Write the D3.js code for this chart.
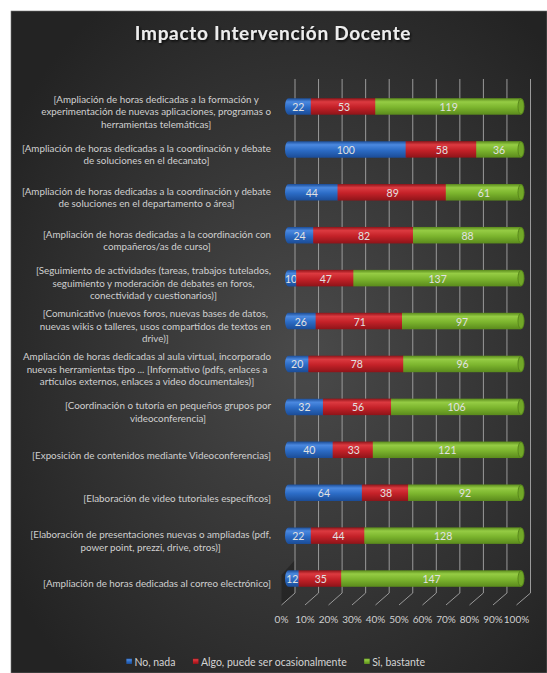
<!DOCTYPE html>
<html><head><meta charset="utf-8">
<script src="https://cdn.jsdelivr.net/npm/d3@7"></script>
<style>
html,body{margin:0;padding:0;background:#fff;}
svg{display:block;}
</style></head>
<body>
<svg id="chart" width="547" height="673"></svg>
<script>
const title = "Impacto Intervención Docente";
const categories = [
  ["[Ampliación de horas dedicadas a la formación y","experimentación de nuevas aplicaciones, programas o","herramientas telemáticas]"],
  ["[Ampliación de horas dedicadas a la coordinación y debate","de soluciones en el decanato]"],
  ["[Ampliación de horas dedicadas a la coordinación y debate","de soluciones en el departamento o área]"],
  ["[Ampliación de horas dedicadas a la coordinación con","compañeros/as de curso]"],
  ["[Seguimiento de actividades (tareas, trabajos tutelados,","seguimiento y moderación de debates en foros,","conectividad y cuestionarios)]"],
  ["[Comunicativo (nuevos foros, nuevas bases de datos,","nuevas wikis o talleres, usos compartidos de textos en","drive)]"],
  ["Ampliación de horas dedicadas al aula virtual, incorporado","nuevas herramientas tipo ... [Informativo (pdfs, enlaces a","artículos externos, enlaces a video documentales)]"],
  ["[Coordinación o tutoría en pequeños grupos por","videoconferencia]"],
  ["[Exposición de contenidos mediante Videoconferencias]"],
  ["[Elaboración de video tutoriales específicos]"],
  ["[Elaboración de presentaciones nuevas o ampliadas (pdf,","power point, prezzi, drive, otros)]"],
  ["[Ampliación de horas dedicadas al correo electrónico]"]
];
const seriesNames = ["No, nada","Algo, puede ser ocasionalmente","Si, bastante"];
const noNada   = [22,100,44,24,10,26,20,32,40,64,22,12];
const algo     = [53,58,89,82,47,71,78,56,33,38,44,35];
const siBastante = [119,36,61,88,137,97,96,106,121,92,128,147];
const tickLabels = ["0%","10%","20%","30%","40%","50%","60%","70%","80%","90%","100%"];

const colors = [
  {base:"#2c6cc6", light:"#4b89e0", dark:"#1b4c96"},
  {base:"#c42128", light:"#dc3a40", dark:"#8e1419"},
  {base:"#7cb52e", light:"#95cc44", dark:"#5a8a1c"}
];

const svg = d3.select("#chart");
const defs = svg.append("defs");
const FONT = "Lato, 'Open Sans', sans-serif";

// background
const bg = defs.append("radialGradient").attr("id","bg").attr("cx","55%").attr("cy","52%").attr("r","65%");
bg.append("stop").attr("offset","0%").attr("stop-color","#4a4a4a");
bg.append("stop").attr("offset","100%").attr("stop-color","#232323");
svg.append("rect").attr("x",11).attr("y",11).attr("width",536).attr("height",662).attr("fill","url(#bg)")
  .attr("stroke","#777").attr("stroke-width",0.6);

const sh = defs.append("filter").attr("id","tshadow").attr("x","-10%").attr("y","-30%").attr("width","120%").attr("height","160%");
sh.append("feDropShadow").attr("dx",1.2).attr("dy",1.5).attr("stdDeviation",1.2).attr("flood-color","#000").attr("flood-opacity",0.8);

colors.forEach((c,i)=>{
  const g = defs.append("linearGradient").attr("id","g"+i).attr("x1",0).attr("y1",0).attr("x2",0).attr("y2",1);
  g.append("stop").attr("offset","0%").attr("stop-color",c.dark);
  g.append("stop").attr("offset","22%").attr("stop-color",c.light);
  g.append("stop").attr("offset","55%").attr("stop-color",c.base);
  g.append("stop").attr("offset","100%").attr("stop-color",c.dark);
});

// title
svg.append("text").attr("x",273).attr("y",40).attr("text-anchor","middle")
  .attr("font-family",FONT).attr("font-weight","bold").attr("font-size",19).attr("letter-spacing",0.7)
  .attr("fill","#ededed").attr("filter","url(#tshadow)").text(title);

// scales
const idx = d3.range(categories.length);
const y = d3.scaleBand().domain(idx).range([85,600]);
const xBar = d3.scaleLinear().domain([0,1]).range([285,521]);
const xBack = d3.scaleLinear().domain([0,1]).range([295,530.5]);
const xFront = d3.scaleLinear().domain([0,1]).range([281.5,516.5]);
const ticks = d3.range(tickLabels.length).map(i=>i/10);

// floor shadow at left
svg.append("path").attr("d",`M${xBack(0)},560L${xBack(0)},593L${xFront(0)},605L${xFront(0)},575Z`).attr("fill","#1e1e1e").attr("opacity",0.6);

// gridlines
const grid = svg.append("g").attr("stroke","#9a9a9a").attr("stroke-width",1).attr("fill","none");
ticks.forEach(t=>{
  grid.append("path").attr("d",`M${xBack(t)},79V593L${xFront(t)},605`);
});
// tick labels
svg.append("g").selectAll("text").data(ticks).join("text")
  .attr("x",d=>xFront(d)).attr("y",622.5).attr("text-anchor","middle")
  .attr("font-family",FONT).attr("font-size",10).attr("fill","#d0d0d0")
  .text((d,i)=>tickLabels[i]);

// bars
const totals = idx.map(i=>noNada[i]+algo[i]+siBastante[i]);
const series = [noNada, algo, siBastante];
const H = 16.5;
const barG = svg.append("g");
idx.forEach(i=>{
  const cy = y(i)+y.bandwidth()/2;
  let cum = 0;
  series.forEach((s,k)=>{
    const v0 = cum/totals[i], v1 = (cum+s[i])/totals[i];
    cum += s[i];
    const x0 = xBar(v0), x1 = xBar(v1);
    const top = cy-H/2;
    if(k===0){
      const r=3.5;
      barG.append("path").attr("d",`M${x0+r},${top}H${x1}V${top+H}H${x0+r}A${r},${H/2} 0 0 1 ${x0+r},${top}Z`).attr("fill","url(#g"+k+")");
    } else {
      barG.append("rect").attr("x",x0-1).attr("y",top).attr("width",x1-x0+1).attr("height",H).attr("fill","url(#g"+k+")");
    }
    if(k===2){
      barG.append("ellipse").attr("cx",x1).attr("cy",cy).attr("rx",3.5).attr("ry",H/2).attr("fill",colors[k].dark);
      barG.append("ellipse").attr("cx",x1).attr("cy",cy).attr("rx",2.5).attr("ry",H/2-1.2).attr("fill",colors[k].base).attr("opacity",0.7);
    }
    barG.append("text").attr("x",(x0+x1)/2).attr("y",cy+4.5).attr("text-anchor","middle")
      .attr("font-family",FONT).attr("font-size",10.5).attr("fill","#e2e2e2").text(s[i]);
  });
});

// category labels
const LH = 12.5;
const labG = svg.append("g").attr("font-family",FONT).attr("font-size",9.8).attr("fill","#d0d0d0");
idx.forEach(i=>{
  const cy = y(i)+y.bandwidth()/2 + 5.5;
  const lines = categories[i];
  const t = labG.append("text").attr("text-anchor","middle");
  const n = lines.length;
  const spans = lines.map((ln,j)=>t.append("tspan").attr("y",cy + (j-(n-1)/2)*LH + 3.3).text(ln));
  const w = d3.max(spans, s=>s.node().getComputedTextLength());
  spans.forEach(s=>s.attr("x",271 - w/2));
});

// legend
const legG = svg.append("g").attr("font-family",FONT).attr("font-size",10.5).attr("fill","#d4d4d4");
const gap = 17, sq = 5.5;
const items = seriesNames.map((n,k)=>{
  const t = legG.append("text").attr("y",665.5).text(n);
  return {t, w:t.node().getComputedTextLength(), k};
});
const totalW = d3.sum(items, d=>d.w + sq + 3) + gap*(items.length-1);
let lx = 276 - totalW/2;
items.forEach(d=>{
  legG.append("rect").attr("x",lx).attr("y",658.5).attr("width",sq).attr("height",sq).attr("fill","url(#g"+d.k+")");
  d.t.attr("x",lx+sq+2.5);
  lx += sq+3+d.w+gap;
});
</script>
</body></html>
